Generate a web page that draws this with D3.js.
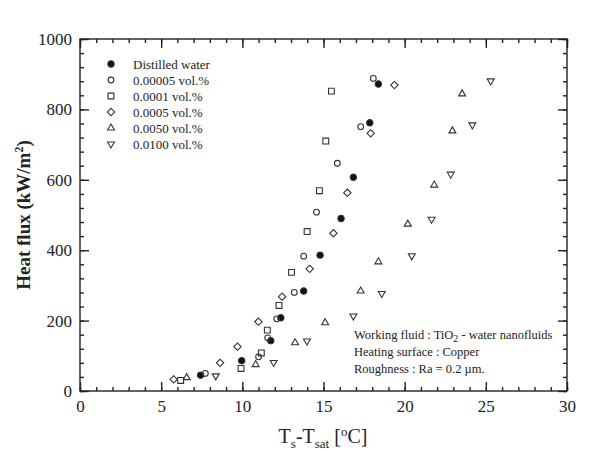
<!DOCTYPE html>
<html>
<head>
<meta charset="utf-8">
<script src="https://cdn.jsdelivr.net/npm/d3@7"></script>
<style>
  body { margin: 0; background: #fff; }
  text { font-family: "Liberation Serif", "Times New Roman", serif; fill: #222; }
</style>
</head>
<body>
<div id="chart"></div>
<script>
// Heat flux vs wall superheat, TiO2-water nanofluids
const xTicks = [0, 5, 10, 15, 20, 25, 30];
const yTicks = [0, 200, 400, 600, 800, 1000];

const distilled = [[7.43,45],[9.96,86],[11.75,143],[12.37,208],[13.78,284],[14.79,386],[16.08,490],[16.84,607],[17.85,762],[18.38,872]];
const vol00005 = [[7.72,50],[11.0,97],[11.56,151],[12.12,205],[13.2,280],[13.78,383],[14.57,508],[15.85,647],[17.29,751],[18.07,888]];
const vol0001 = [[6.2,30],[9.92,64],[11.17,108],[11.54,173],[12.26,243],[13.03,337],[13.99,453],[14.75,569],[15.14,710],[15.49,852]];
const vol0005 = [[5.77,33],[8.63,80],[9.7,126],[10.99,197],[12.45,268],[14.15,347],[15.61,448],[16.47,563],[17.91,732],[19.37,869]];
const vol0050 = [[6.57,38],[10.82,75],[13.25,137],[15.1,194],[17.29,284],[18.38,367],[20.19,474],[21.82,585],[22.94,739],[23.54,844]];
const vol0100 = [[8.36,43],[11.93,81],[13.98,142],[16.84,213],[18.59,277],[20.44,384],[21.66,488],[22.84,616],[24.17,756],[25.3,881]];

const seriesNames = ["Distilled water", "0.00005 vol.%", "0.0001 vol.%", "0.0005 vol.%", "0.0050 vol.%", "0.0100 vol.%"];
const seriesData = [distilled, vol00005, vol0001, vol0005, vol0050, vol0100];
const notes = ["Working fluid : TiO|2| - water nanofluids", "Heating surface : Copper", "Roughness : Ra = 0.2 \u00b5m."];

const width = 600, height = 451;
const svg = d3.select("#chart").append("svg")
  .attr("width", width)
  .attr("height", height);

const x = d3.scaleLinear().domain([0, 30]).range([80, 567]);
const y = d3.scaleLinear().domain([0, 1000]).range([391, 39]);

// marker shapes
const symbols = [
  { type: d3.symbolCircle, size: 32, fill: "#111", rot: 0 },
  { type: d3.symbolCircle, size: 26, fill: "none", rot: 0 },
  { type: d3.symbolSquare, size: 34, fill: "none", rot: 0 },
  { type: d3.symbolSquare, size: 27, fill: "none", rot: 45 },
  { type: d3.symbolTriangle, size: 21, fill: "none", rot: 0 },
  { type: d3.symbolTriangle, size: 21, fill: "none", rot: 180 }
];

// axes: majors + minors on all four sides, pointing inward
const minorX = d3.range(0, 31, 1);
const minorY = d3.range(0, 1001, 40);
const axisColor = "#222";

function styleAxis(g) {
  g.select(".domain").remove();
  g.selectAll("line").attr("stroke", axisColor).attr("stroke-width", 1.4);
  g.selectAll("text").style("font-size", "17px");
}

svg.append("g").attr("transform", "translate(0,391)")
  .call(d3.axisBottom(x).tickValues(minorX).tickSize(-4).tickFormat("")).call(styleAxis);
svg.append("g").attr("transform", "translate(0,391)")
  .call(d3.axisBottom(x).tickValues(xTicks).tickSize(-9).tickPadding(9).tickFormat(d3.format("d"))).call(styleAxis);
svg.append("g").attr("transform", "translate(0,39)")
  .call(d3.axisTop(x).tickValues(minorX).tickSize(-4).tickFormat("")).call(styleAxis);
svg.append("g").attr("transform", "translate(0,39)")
  .call(d3.axisTop(x).tickValues(xTicks).tickSize(-9).tickFormat("")).call(styleAxis);

svg.append("g").attr("transform", "translate(80,0)")
  .call(d3.axisLeft(y).tickValues(minorY).tickSize(-4).tickFormat("")).call(styleAxis);
svg.append("g").attr("transform", "translate(80,0)")
  .call(d3.axisLeft(y).tickValues(yTicks).tickSize(-9).tickPadding(8).tickFormat(d3.format("d"))).call(styleAxis);
svg.append("g").attr("transform", "translate(567,0)")
  .call(d3.axisRight(y).tickValues(minorY).tickSize(-4).tickFormat("")).call(styleAxis);
svg.append("g").attr("transform", "translate(567,0)")
  .call(d3.axisRight(y).tickValues(yTicks).tickSize(-9).tickFormat("")).call(styleAxis);

svg.append("rect")
  .attr("x", x(0)).attr("y", y(1000))
  .attr("width", x(30) - x(0)).attr("height", y(0) - y(1000))
  .attr("fill", "none").attr("stroke", axisColor).attr("stroke-width", 1.4);

// data points
seriesData.forEach((data, i) => {
  const s = symbols[i];
  svg.append("g").selectAll("path")
    .data(data)
    .enter().append("path")
    .attr("transform", d => `translate(${x(d[0])},${y(d[1])}) rotate(${s.rot})`)
    .attr("d", d3.symbol().type(s.type).size(s.size))
    .attr("fill", s.fill)
    .attr("stroke", "#333")
    .attr("stroke-width", 1.1);
});

// legend
const legend = svg.selectAll(".legend")
  .data(seriesNames)
  .enter().append("g")
  .attr("class", "legend")
  .attr("transform", (d, i) => `translate(111, ${64 + i * 16})`);

legend.append("path")
  .attr("d", (d, i) => d3.symbol().type(symbols[i].type).size(symbols[i].size)())
  .attr("transform", (d, i) => `rotate(${symbols[i].rot})`)
  .attr("fill", (d, i) => symbols[i].fill)
  .attr("stroke", "#333")
  .attr("stroke-width", 1.1);

legend.append("text")
  .attr("x", 22)
  .attr("dy", "0.35em")
  .style("font-size", "13px")
  .text(d => d);

// annotation
const note = svg.append("g").attr("transform", "translate(354,339)");
notes.forEach((line, i) => {
  const t = note.append("text").attr("y", i * 17).style("font-size", "12.5px");
  line.split("|").forEach((part, j) => {
    t.append("tspan")
      .attr("dy", j === 1 ? 3 : (j === 2 ? -3 : 0))
      .style("font-size", j === 1 ? "10px" : null)
      .text(part);
  });
});

// axis titles
const yTitle = svg.append("text")
  .attr("transform", "translate(30,215) rotate(-90)")
  .attr("text-anchor", "middle")
  .style("font-size", "19px")
  .style("font-weight", "bold");
yTitle.append("tspan").text("Heat flux (kW/m");
yTitle.append("tspan").attr("dy", -7).style("font-size", "12px").text("2");
yTitle.append("tspan").attr("dy", 7).text(")");

const xTitle = svg.append("text")
  .attr("x", 323).attr("y", 443)
  .attr("text-anchor", "middle")
  .style("font-size", "20px");
xTitle.append("tspan").text("T");
xTitle.append("tspan").attr("dy", 5).style("font-size", "13px").text("s");
xTitle.append("tspan").attr("dy", -5).text("-T");
xTitle.append("tspan").attr("dy", 5).style("font-size", "13px").text("sat");
xTitle.append("tspan").attr("dy", -5).text(" [");
xTitle.append("tspan").attr("dy", -7).style("font-size", "13px").text("o");
xTitle.append("tspan").attr("dy", 7).text("C]");
</script>
</body>
</html>
